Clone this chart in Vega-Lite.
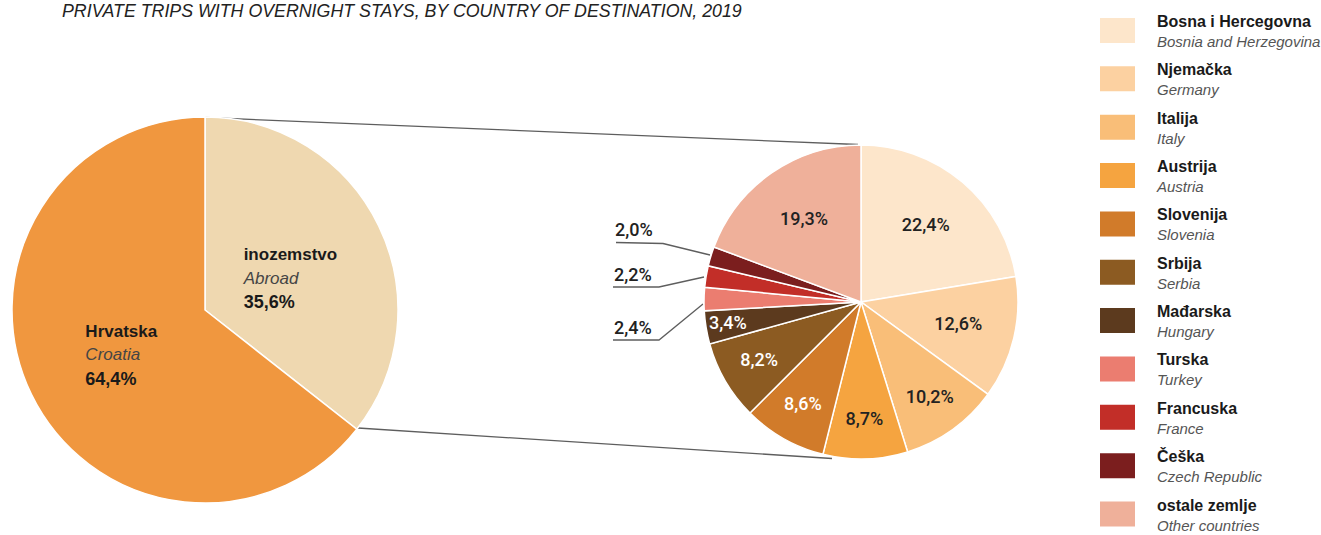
{
  "$schema": "https://vega.github.io/schema/vega-lite/v6.json",
  "width": 1321,
  "height": 535,
  "autosize": {"type": "none"},
  "padding": 0,
  "background": "white",
  "config": {
    "view": {"stroke": null},
    "text": {"font": "Liberation Sans"},
    "locale": {"number": {"decimal": ",", "thousands": ".", "grouping": [3], "currency": ["", " €"]}}
  },
  "datasets": {
    "left": [
      {"name": "inozemstvo", "en": "Abroad", "value": 0.356, "rank": 1},
      {"name": "Hrvatska", "en": "Croatia", "value": 0.644, "rank": 2}
    ],
    "right": [
      {"name": "Bosna i Hercegovna", "en": "Bosnia and Herzegovina", "value": 0.224, "rank": 1},
      {"name": "Njemačka", "en": "Germany", "value": 0.126, "rank": 2},
      {"name": "Italija", "en": "Italy", "value": 0.102, "rank": 3},
      {"name": "Austrija", "en": "Austria", "value": 0.087, "rank": 4},
      {"name": "Slovenija", "en": "Slovenia", "value": 0.086, "rank": 5},
      {"name": "Srbija", "en": "Serbia", "value": 0.082, "rank": 6},
      {"name": "Mađarska", "en": "Hungary", "value": 0.034, "rank": 7},
      {"name": "Turska", "en": "Turkey", "value": 0.024, "rank": 8},
      {"name": "Francuska", "en": "France", "value": 0.022, "rank": 9},
      {"name": "Češka", "en": "Czech Republic", "value": 0.02, "rank": 10},
      {"name": "ostale zemlje", "en": "Other countries", "value": 0.193, "rank": 11}
    ],
    "ext": [
      {"name": "Češka", "value": 0.02, "x": 615, "y": 236},
      {"name": "Francuska", "value": 0.022, "x": 614, "y": 281},
      {"name": "Turska", "value": 0.024, "x": 614, "y": 334}
    ],
    "lines": [
      {"id": "top", "seq": 1, "x": 205, "y": 117.5},
      {"id": "top", "seq": 2, "x": 858, "y": 144.5},
      {"id": "bottom", "seq": 1, "x": 358, "y": 428},
      {"id": "bottom", "seq": 2, "x": 832, "y": 458.5},
      {"id": "cz", "seq": 1, "x": 616, "y": 242.5},
      {"id": "cz", "seq": 2, "x": 663, "y": 243.5},
      {"id": "cz", "seq": 3, "x": 710, "y": 255},
      {"id": "fr", "seq": 1, "x": 613, "y": 287},
      {"id": "fr", "seq": 2, "x": 659, "y": 287},
      {"id": "fr", "seq": 3, "x": 704, "y": 277},
      {"id": "tr", "seq": 1, "x": 613, "y": 340},
      {"id": "tr", "seq": 2, "x": 659, "y": 340},
      {"id": "tr", "seq": 3, "x": 703, "y": 304}
    ]
  },
  "resolve": {"scale": {"y": "independent"}},
  "layer": [
    {
      "data": {"name": "lines"},
      "mark": {"type": "line", "stroke": "#5e5e5e", "strokeWidth": 1.3},
      "encoding": {
        "x": {"field": "x", "type": "quantitative", "scale": {"domain": [0, 1321], "nice": false, "zero": false}, "axis": null},
        "y": {"field": "y", "type": "quantitative", "scale": {"domain": [0, 535], "reverse": true, "nice": false, "zero": false}, "axis": null},
        "detail": {"field": "id"},
        "order": {"field": "seq", "type": "quantitative"}
      }
    },
    {
      "data": {"name": "left"},
      "mark": {"type": "arc", "outerRadius": 193, "stroke": "white", "strokeWidth": 1.5},
      "encoding": {
        "theta": {"field": "value", "type": "quantitative", "stack": true},
        "color": {
          "field": "name", "type": "nominal", "legend": null,
          "scale": {
            "domain": ["inozemstvo", "Hrvatska", "Bosna i Hercegovna", "Njemačka", "Italija", "Austrija", "Slovenija", "Srbija", "Mađarska", "Turska", "Francuska", "Češka", "ostale zemlje"],
            "range": ["#efd8b0", "#f0973f", "#fde6cb", "#fcd1a1", "#f9be78", "#f5a440", "#d17b2a", "#8c5b22", "#5c3a1e", "#eb7d70", "#c22e28", "#7b1e1e", "#efb09a"]
          }
        },
        "order": {"field": "rank", "type": "quantitative"},
        "x": {"datum": 205, "type": "quantitative"},
        "y": {"datum": 310, "type": "quantitative", "scale": {"domain": [0, 535], "reverse": true, "nice": false, "zero": false}, "axis": null}
      }
    },
    {
      "data": {"name": "right"},
      "mark": {"type": "arc", "outerRadius": 157, "stroke": "white", "strokeWidth": 1.5},
      "encoding": {
        "theta": {"field": "value", "type": "quantitative", "stack": true},
        "color": {"field": "name", "type": "nominal", "legend": null},
        "order": {"field": "rank", "type": "quantitative"},
        "x": {"datum": 861, "type": "quantitative"},
        "y": {"datum": 302, "type": "quantitative", "scale": {"domain": [0, 535], "reverse": true, "nice": false, "zero": false}, "axis": null}
      }
    },
    {
      "data": {"name": "left"},
      "mark": {"type": "text", "radius": 88, "dx": -40.5, "dy": -11.5, "align": "left", "baseline": "alphabetic", "fontSize": 17, "fontWeight": "bold", "fill": "#1a1a1a"},
      "encoding": {
        "theta": {"field": "value", "type": "quantitative", "stack": true},
        "detail": {"field": "name"},
        "order": {"field": "rank", "type": "quantitative"},
        "text": {"field": "name"},
        "x": {"datum": 205, "type": "quantitative"},
        "y": {"datum": 310, "type": "quantitative", "scale": {"domain": [0, 535], "reverse": true, "nice": false, "zero": false}, "axis": null}
      }
    },
    {
      "data": {"name": "left"},
      "mark": {"type": "text", "radius": 88, "dx": -40.5, "dy": 12, "align": "left", "baseline": "alphabetic", "fontSize": 17, "fontStyle": "italic", "fill": "#454545"},
      "encoding": {
        "theta": {"field": "value", "type": "quantitative", "stack": true},
        "detail": {"field": "name"},
        "order": {"field": "rank", "type": "quantitative"},
        "text": {"field": "en"},
        "x": {"datum": 205, "type": "quantitative"},
        "y": {"datum": 310, "type": "quantitative", "scale": {"domain": [0, 535], "reverse": true, "nice": false, "zero": false}, "axis": null}
      }
    },
    {
      "data": {"name": "left"},
      "mark": {"type": "text", "radius": 88, "dx": -40.5, "dy": 36.5, "align": "left", "baseline": "alphabetic", "fontSize": 18, "fontWeight": "bold", "fill": "#1a1a1a"},
      "encoding": {
        "theta": {"field": "value", "type": "quantitative", "stack": true},
        "detail": {"field": "name"},
        "order": {"field": "rank", "type": "quantitative"},
        "text": {"field": "value", "type": "quantitative", "format": ".1%"},
        "x": {"datum": 205, "type": "quantitative"},
        "y": {"datum": 310, "type": "quantitative", "scale": {"domain": [0, 535], "reverse": true, "nice": false, "zero": false}, "axis": null}
      }
    },
    {
      "data": {"name": "right"},
      "mark": {"type": "text", "radius": 100, "align": "center", "baseline": "middle", "fontSize": 18, "font": "Roboto", "fontWeight": 500, "fill": "#222222"},
      "encoding": {
        "theta": {"field": "value", "type": "quantitative", "stack": true},
        "detail": {"field": "name"},
        "order": {"field": "rank", "type": "quantitative"},
        "text": {"condition": {"test": "indexof(['Bosna i Hercegovna','Njemačka','ostale zemlje'], datum.name) >= 0", "field": "value", "type": "quantitative", "format": ".1%"}, "value": ""},
        "x": {"datum": 861, "type": "quantitative"},
        "y": {"datum": 302, "type": "quantitative", "scale": {"domain": [0, 535], "reverse": true, "nice": false, "zero": false}, "axis": null}
      }
    },
    {
      "data": {"name": "right"},
      "mark": {"type": "text", "radius": 118, "align": "center", "baseline": "middle", "fontSize": 18, "font": "Roboto", "fontWeight": 500},
      "encoding": {
        "theta": {"field": "value", "type": "quantitative", "stack": true},
        "detail": {"field": "name"},
        "order": {"field": "rank", "type": "quantitative"},
        "text": {"condition": {"test": "indexof(['Italija','Austrija','Slovenija','Srbija'], datum.name) >= 0", "field": "value", "type": "quantitative", "format": ".1%"}, "value": ""},
        "color": {"condition": {"test": "indexof(['Slovenija','Srbija'], datum.name) >= 0", "value": "#ffffff"}, "value": "#222222"},
        "x": {"datum": 861, "type": "quantitative"},
        "y": {"datum": 302, "type": "quantitative", "scale": {"domain": [0, 535], "reverse": true, "nice": false, "zero": false}, "axis": null}
      }
    },
    {
      "data": {"name": "right"},
      "mark": {"type": "text", "radius": 135, "align": "center", "baseline": "middle", "fontSize": 18, "font": "Roboto", "fontWeight": 500, "fill": "#ffffff"},
      "encoding": {
        "theta": {"field": "value", "type": "quantitative", "stack": true},
        "detail": {"field": "name"},
        "order": {"field": "rank", "type": "quantitative"},
        "text": {"condition": {"test": "datum.name === 'Mađarska'", "field": "value", "type": "quantitative", "format": ".1%"}, "value": ""},
        "x": {"datum": 861, "type": "quantitative"},
        "y": {"datum": 302, "type": "quantitative", "scale": {"domain": [0, 535], "reverse": true, "nice": false, "zero": false}, "axis": null}
      }
    },
    {
      "data": {"name": "ext"},
      "mark": {"type": "text", "align": "left", "baseline": "alphabetic", "fontSize": 18, "font": "Roboto", "fontWeight": 500, "fill": "#222222"},
      "encoding": {
        "x": {"field": "x", "type": "quantitative"},
        "y": {"field": "y", "type": "quantitative", "scale": {"domain": [0, 535], "reverse": true, "nice": false, "zero": false}, "axis": null},
        "text": {"field": "value", "type": "quantitative", "format": ".1%"}
      }
    },
    {
      "data": {"name": "right"},
      "mark": {"type": "point", "filled": true, "opacity": 1, "size": 1225, "shape": "M-1,-0.714L1,-0.714L1,0.714L-1,0.714Z", "strokeWidth": 0},
      "encoding": {
        "x": {"datum": 1117.5, "type": "quantitative"},
        "y": {"field": "rank", "type": "quantitative", "scale": {"domain": [1, 11], "range": [30.5, 514], "nice": false, "zero": false}, "axis": null},
        "color": {"field": "name", "type": "nominal", "legend": null}
      }
    },
    {
      "data": {"name": "right"},
      "mark": {"type": "text", "align": "left", "baseline": "alphabetic", "dy": -3.5, "fontSize": 16, "fontWeight": "bold", "fill": "#1a1a1a"},
      "encoding": {
        "x": {"datum": 1157, "type": "quantitative"},
        "y": {"field": "rank", "type": "quantitative", "scale": {"domain": [1, 11], "range": [30.5, 514], "nice": false, "zero": false}, "axis": null},
        "text": {"field": "name"}
      }
    },
    {
      "data": {"name": "right"},
      "mark": {"type": "text", "align": "left", "baseline": "alphabetic", "dy": 16.5, "fontSize": 15, "fontStyle": "italic", "fill": "#555555"},
      "encoding": {
        "x": {"datum": 1157, "type": "quantitative"},
        "y": {"field": "rank", "type": "quantitative", "scale": {"domain": [1, 11], "range": [30.5, 514], "nice": false, "zero": false}, "axis": null},
        "text": {"field": "en"}
      }
    },
    {
      "data": {"values": [{"title": "PRIVATE TRIPS WITH OVERNIGHT STAYS, BY COUNTRY OF DESTINATION, 2019"}]},
      "mark": {"type": "text", "align": "left", "baseline": "alphabetic", "fontSize": 17.8, "fontStyle": "italic", "fill": "#222222"},
      "encoding": {
        "x": {"datum": 62, "type": "quantitative"},
        "y": {"datum": 16.5, "type": "quantitative", "scale": {"domain": [0, 535], "reverse": true, "nice": false, "zero": false}, "axis": null},
        "text": {"field": "title"}
      }
    }
  ]
}
